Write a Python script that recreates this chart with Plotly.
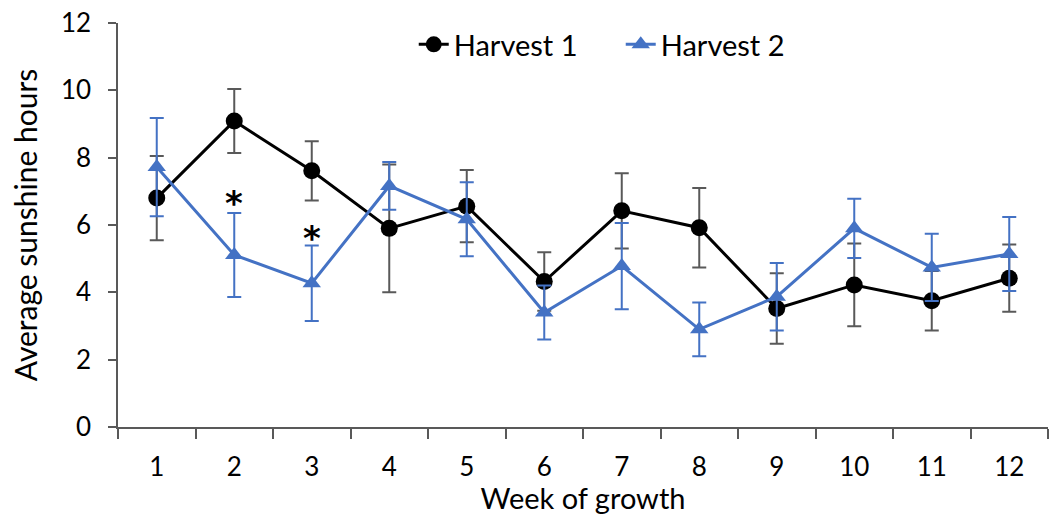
import plotly.graph_objects as go

weeks = ["1", "2", "3", "4", "5", "6", "7", "8", "9", "10", "11", "12"]
harvest1 = [6.80, 9.09, 7.61, 5.90, 6.56, 4.32, 6.42, 5.92, 3.52, 4.22, 3.75, 4.42]
harvest1_err = [1.25, 0.95, 0.88, 1.90, 1.07, 0.87, 1.12, 1.18, 1.05, 1.23, 0.88, 1.00]
harvest2 = [7.72, 5.11, 4.27, 7.16, 6.17, 3.40, 4.78, 2.90, 3.87, 5.90, 4.74, 5.14]
harvest2_err = [1.46, 1.25, 1.12, 0.71, 1.10, 0.80, 1.28, 0.80, 1.00, 0.88, 1.00, 1.10]
sig_weeks = ["2", "3"]
sig_y = [6.65, 5.62]

FONT = "Lato, Carlito, Calibri, sans-serif"

fig = go.Figure()
fig.add_trace(go.Scatter(
    x=weeks, y=harvest1, name="Harvest 1", mode="lines+markers",
    line=dict(color="black", width=3),
    marker=dict(symbol="circle", size=17, color="black"),
    error_y=dict(type="data", array=harvest1_err, visible=True,
                 color="#595959", thickness=2, width=7),
))
fig.add_trace(go.Scatter(
    x=weeks, y=harvest2, name="Harvest 2", mode="lines+markers",
    line=dict(color="#4472C4", width=3),
    marker=dict(symbol="triangle-up", size=16, color="#4472C4"),
    error_y=dict(type="data", array=harvest2_err, visible=True,
                 color="#4472C4", thickness=2, width=7),
))

for wx, wy in zip(sig_weeks, sig_y):
    fig.add_annotation(x=weeks.index(wx), y=wy, text="<b>*</b>", showarrow=False,
                       font=dict(family="DejaVu Sans", size=34, color="black"),
                       yanchor="middle")

fig.update_layout(
    width=1051, height=515,
    margin=dict(l=118, r=3, t=23, b=88),
    paper_bgcolor="white", plot_bgcolor="white",
    font=dict(family=FONT, size=26, color="black"),
    showlegend=True,
    legend=dict(orientation="h", x=0.318, y=1.01, xanchor="left", yanchor="top",
                font=dict(family=FONT, size=29, color="black"),
                entrywidth=162, entrywidthmode="pixels",
                bgcolor="rgba(0,0,0,0)", tracegroupgap=0),
    xaxis=dict(
        type="category", range=[-0.5, 11.5], tickson="boundaries",
        ticks="outside", ticklen=10, tickcolor="#595959", tickwidth=1.5,
        showline=True, linecolor="#595959", linewidth=1.5,
        showgrid=False, zeroline=False,
        tickfont=dict(family=FONT, size=26),
        ticklabelstandoff=16,
        title=dict(text="Week of growth", font=dict(family=FONT, size=29), standoff=4),
    ),
    yaxis=dict(
        range=[0, 12], dtick=2, tick0=0,
        ticks="outside", ticklen=8, tickcolor="#595959", tickwidth=1.5,
        showline=True, linecolor="#595959", linewidth=1.5,
        showgrid=False, zeroline=False,
        tickfont=dict(family=FONT, size=26),
        ticklabelstandoff=12,
        title=dict(text="Average sunshine hours", font=dict(family=FONT, size=30), standoff=14),
    ),
)

fig.write_html("out.html")
